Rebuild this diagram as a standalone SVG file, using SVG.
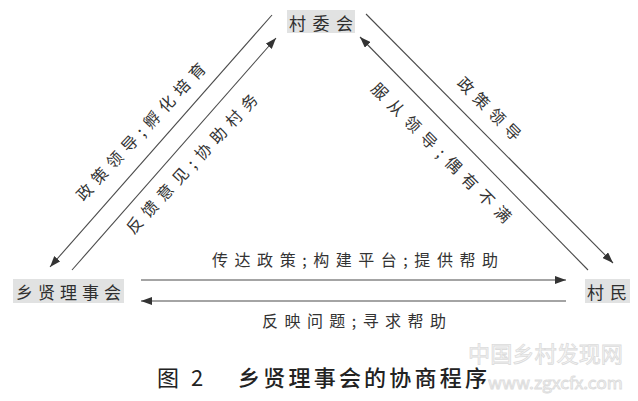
<svg xmlns="http://www.w3.org/2000/svg" width="638" height="401" viewBox="0 0 638 401">
<style>
.box{fill:#e1e2e2;}
.nt{font-family:"Noto Sans CJK SC","Noto Sans",sans-serif;font-size:17px;fill:#2f2f2f;text-anchor:middle;dominant-baseline:central;}
.lb{font-family:"Noto Sans CJK SC","Noto Sans",sans-serif;font-size:16px;fill:#333;text-anchor:middle;dominant-baseline:central;}
.ln{stroke:#4a4a4a;stroke-width:1.1;fill:none;}
.cap{font-family:"Noto Sans CJK SC","Noto Sans",sans-serif;font-size:22px;fill:#222;dominant-baseline:central;}
.wm{font-family:"Noto Sans CJK SC",sans-serif;fill:#f6f6f6;stroke:#dcdcdc;stroke-width:0.8;dominant-baseline:central;}
</style>
<defs>
<marker id="ah" markerUnits="userSpaceOnUse" markerWidth="11" markerHeight="8" refX="11" refY="4" orient="auto">
<path d="M0,0 L11,4 L0,8 z" fill="#333"/>
</marker>
</defs>
<rect width="638" height="401" fill="#ffffff"/>

<g id="node-cunweihui">
<rect class="box" x="287" y="10" width="68" height="23"/>
<text class="nt" x="321" y="22" textLength="64" lengthAdjust="spacing">村委会</text>
</g>
<g id="node-xiangxian">
<rect class="box" x="13" y="279" width="111" height="24"/>
<text class="nt" x="68.5" y="291" textLength="105" lengthAdjust="spacing">乡贤理事会</text>
</g>
<g id="node-cunmin">
<rect class="box" x="585" y="279" width="45" height="24"/>
<text class="nt" x="607" y="291" textLength="40" lengthAdjust="spacing">村民</text>
</g>

<g id="connectors">
<line class="ln" x1="272" y1="15" x2="50" y2="267" marker-end="url(#ah)"/>
<line class="ln" x1="72" y1="270" x2="276" y2="38" marker-end="url(#ah)"/>
<line class="ln" x1="366" y1="14" x2="613" y2="263" marker-end="url(#ah)"/>
<line class="ln" x1="588" y1="270" x2="360" y2="37" marker-end="url(#ah)"/>
<line class="ln" x1="141" y1="280" x2="566" y2="280" marker-end="url(#ah)"/>
<line class="ln" x1="566" y1="301" x2="141" y2="301" marker-end="url(#ah)"/>
<text class="lb" transform="translate(140,131) rotate(-47)" textLength="181" lengthAdjust="spacing">政策领导;孵化培育</text>
<text class="lb" transform="translate(191,163) rotate(-47)" textLength="184" lengthAdjust="spacing">反馈意见;协助村务</text>
<text class="lb" transform="translate(490,108) rotate(45)" textLength="82" lengthAdjust="spacing">政策领导</text>
<text class="lb" transform="translate(442,152) rotate(45)" textLength="190" lengthAdjust="spacing">服从领导;偶有不满</text>
<text class="lb" x="355" y="259" textLength="286" lengthAdjust="spacing">传达政策;构建平台;提供帮助</text>
<text class="lb" x="354" y="320" textLength="184" lengthAdjust="spacing">反映问题;寻求帮助</text>
</g>

<text class="wm" x="468" y="352" font-size="22" textLength="155" lengthAdjust="spacingAndGlyphs">中国乡村发现网</text>
<text class="wm" x="488" y="382" font-size="16" font-family="Liberation Serif,serif" textLength="135" lengthAdjust="spacingAndGlyphs">www.zgxcfx.com</text>

<text class="cap" x="157" y="376">图</text>
<text class="cap" x="191" y="376" font-family="Liberation Serif,serif">2</text>
<text class="cap" x="238" y="376" font-weight="500" textLength="249" lengthAdjust="spacing">乡贤理事会的协商程序</text>
</svg>
